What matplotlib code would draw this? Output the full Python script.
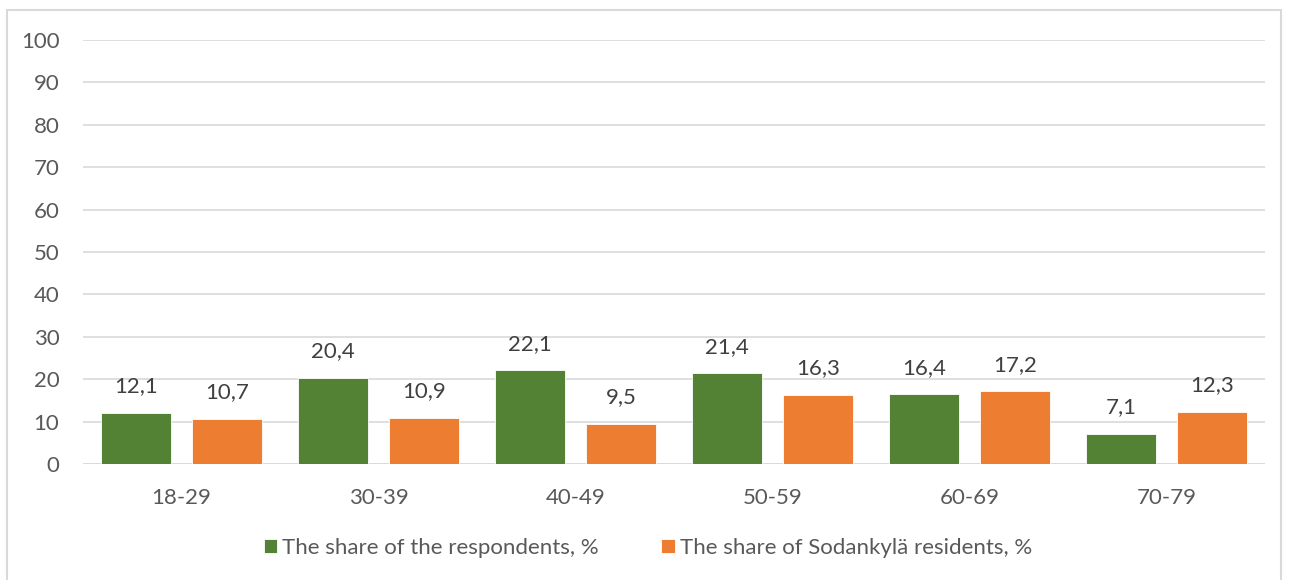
import matplotlib
matplotlib.use("Agg")
import matplotlib.pyplot as plt
import numpy as np
from matplotlib.patches import Rectangle

categories = ["18-29", "30-39", "40-49", "50-59", "60-69", "70-79"]
respondents = [12.1, 20.4, 22.1, 21.4, 16.4, 7.1]
residents = [10.7, 10.9, 9.5, 16.3, 17.2, 12.3]
series_names = ["The share of the respondents, %", "The share of Sodankylä residents, %"]
colors = ["#548235", "#ED7D31"]
yticks = list(range(0, 101, 10))

plt.rcParams['font.family'] = ['Lato', 'DejaVu Sans']
text_color = "#595959"
fs = 16

fig = plt.figure(figsize=(12.91, 5.8), dpi=100)
W, H = 1291, 580
ax = fig.add_axes([83 / W, 1 - 464 / H, (1265 - 83) / W, (464 - 40) / H])

x = np.arange(len(categories))
width = 0.36
off = 0.231
for i, (vals, c, name) in enumerate(zip([respondents, residents], colors, series_names)):
    pos = x + (-off if i == 0 else off)
    ax.bar(pos, vals, width, color=c, edgecolor="white", linewidth=0.6, label=name, zorder=3)
    for xb, v in zip(pos, vals):
        ax.annotate(f"{v:.1f}".replace(".", ","), (xb, v), xytext=(0, 19), textcoords="offset points",
                    ha="center", va="center", fontsize=fs, color="#404040")

ax.set_xlim(-0.5, len(categories) - 0.5)
ax.set_ylim(0, 100)
ax.set_yticks(yticks)
ax.set_xticks(x)
ax.set_xticklabels(categories)
ax.grid(axis="y", color="#d9d9d9", linewidth=1.2, zorder=0)
for s in ax.spines.values():
    s.set_visible(False)
ax.tick_params(axis="both", length=0, labelsize=fs, colors=text_color)
ax.tick_params(axis="y", pad=17)
ax.tick_params(axis="x", pad=17)
ax.axhline(0, color="#d9d9d9", linewidth=1.2, zorder=2)

leg = fig.legend(loc="center", bbox_to_anchor=(648 / W, 1 - 548 / H), ncol=2, frameon=False,
                 fontsize=fs, handlelength=0.6, handleheight=0.6, handletextpad=0.25, columnspacing=2.8)
for t in leg.get_texts():
    t.set_color(text_color)

fig.patches.append(Rectangle((7 / W, -0.01), (1281 - 7) / W, 1 - 10 / H + 0.01, transform=fig.transFigure,
                             fill=False, edgecolor="#d9d9d9", linewidth=1.5))

fig.savefig("out.png", dpi=100, facecolor="white")
